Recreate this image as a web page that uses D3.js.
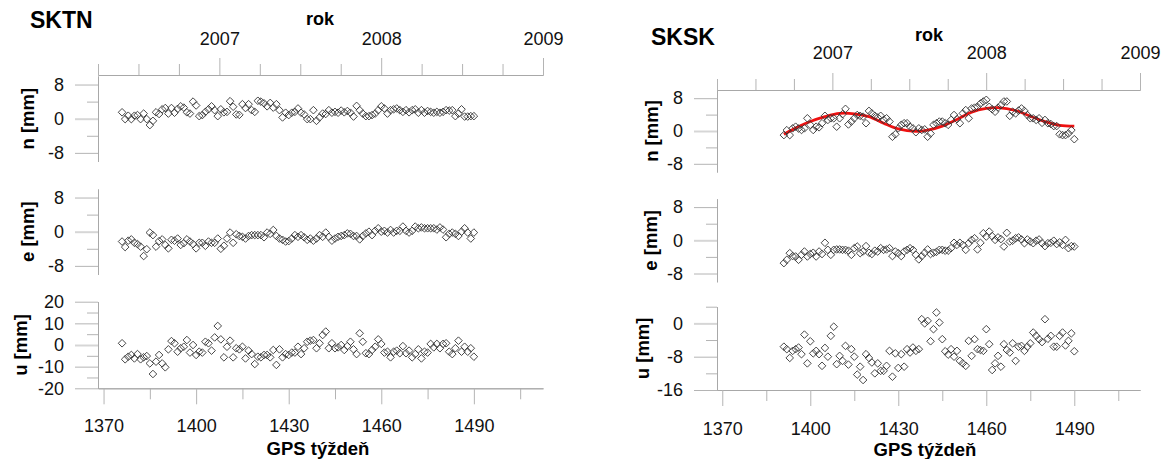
<!DOCTYPE html>
<html>
<head>
<meta charset="utf-8">
<script src="https://cdn.jsdelivr.net/npm/d3@7"></script>
<style>
  body { margin: 0; background: #fff; }
  svg { display: block; font-family: "Liberation Sans", Arial, sans-serif; }
</style>
</head>
<body>
<div class="gps_chart"></div>
<script>
  // GPS weeks of the weekly solutions
  const sktnWeeks = d3.range(1376, 1491);
  const sksWeeks = d3.range(1391, 1491);

  // SKTN residuals [mm]
  const sktnN = [
    1.5, -0.1, 0.7, -0.1, 0.7, 0.85, -0.1, 1.2, -0.1, -1.5,
    -0.5, 1.5, 1.1, 2.2, 2.5, 1.2, 2.5, 1.4, 2.3, 2.9,
    2.6, 1.5, 1.2, 4.0, 3.1, 0.6, 0.85, 1.6, 2.2, 2.9,
    2.0, 0.6, 2.2, 1.5, 1.6, 4.1, 2.8, 1.0, 0.9, 3.4,
    2.5, 3.4, 2.0, 1.6, 4.2, 4.0, 3.6, 2.9, 3.7, 2.6,
    3.4, 2.0, 0.3, 1.4, 0.85, 1.4, 1.6, 2.4, 1.4, 1.0,
    -0.1, -0.1, 2.0, -0.5, 0.3, 1.2, 1.1, 2.0, 1.4, 1.6,
    1.4, 1.9, 1.5, 1.8, 1.4, 0.5, 3.0, 2.0, 1.2, 0.6,
    0.6, 0.85, 1.2, 2.0, 2.9, 2.4, 1.2, 2.0, 2.2, 2.4,
    2.0, 1.6, 2.0, 1.5, 2.0, 2.2, 1.4, 2.0, 1.4, 1.8,
    1.6, 1.4, 1.6, 1.4, 1.6, 2.0, 1.9, 2.0, 0.6, 1.2,
    2.2, 0.5, 0.5, 0.6, 0.6
  ];
  const sktnE = [
    -2.3, -3.6, -2.1, -1.8, -2.6, -2.9, -3.5, -5.7, -4.1, -0.2,
    -0.8, -3.5, -2.2, -1.8, -3.1, -3.9, -1.9, -2.1, -1.6, -3.1,
    -2.7, -1.8, -2.3, -2.9, -3.9, -2.6, -2.6, -3.3, -2.3, -2.6,
    -2.6, -1.6, -4.0, -3.3, -1.6, -0.2, -2.6, -0.6, -1.0, -1.2,
    -1.6, -1.0, -0.8, -0.8, -0.8, -0.8, -1.3, -0.2, -0.5, 0.4,
    -1.0, -1.6, -1.9, -2.3, -2.2, -1.6, -0.8, -1.2, -0.8, -1.3,
    -1.9, -1.6, -2.1, -1.6, -0.8, -1.2, -0.2, -1.2, -2.1, -1.6,
    -1.2, -1.0, -0.8, -0.4, -0.5, -1.0, -1.0, -1.8, -1.0, -0.4,
    0.0, -0.8, 0.2, 0.8, 0.0, 0.2, -0.2, 0.4, -0.2, 0.2,
    0.2, 1.2, 0.2, -0.2, 0.2, 1.2, 0.8, 1.0, 0.8, 0.8,
    0.8, 0.8, 0.5, 1.0, 0.5, -1.3, -0.5, -0.2, -0.5, -1.0,
    0.0, 0.8, -0.2, -1.6, -0.2
  ];
  const sktnU = [
    0.8, -6.6, -5.4, -4.6, -6.2, -4.2, -6.6, -5.7, -5.1, -8.5,
    -13.4, -7.7, -4.6, -8.5, -10.3, -2.0, 1.8, 0.8, -3.1, -1.5,
    -0.8, 2.3, -3.5, 0.0, -4.6, -3.1, -3.5, 1.5, 0.8, -2.6,
    3.5, 8.8, 2.6, -5.7, -0.8, 2.0, -5.7, -1.5, -2.0, -0.8,
    -6.2, -2.6, -4.2, -8.8, -5.4, -5.7, -4.6, -4.6, -5.7, -2.3,
    -9.2, -2.0, -5.7, -4.2, -4.6, -3.5, -3.5, -0.8, -4.2, -1.5,
    1.5, 2.0, 2.3, -1.5, 0.8, 4.6, 6.2, -1.5, 0.8, -1.5,
    -1.1, 0.0, -2.3, -0.5, 1.5, -2.0, -4.2, 5.4, 1.5, -3.8,
    -4.2, -2.3, -0.8, 2.6, 0.5, -3.5, -3.1, -5.7, -3.1, -2.6,
    -3.8, -0.5, -3.8, -2.6, -5.7, -4.2, -2.0, -6.2, -3.1, -3.5,
    0.5, -1.1, 0.5, -1.5, 0.5, 0.8, -3.1, -4.2, -1.5, 2.0,
    -3.1, -0.8, -3.1, -1.5, -5.4
  ];

  // SKSK residuals [mm]
  const sksN = [
    -1.0, 0.2, -1.0, 0.65, 1.05, 0.6, 0.25, 0.65, 3.1, 1.5,
    0.25, 1.05, 0.9, 1.9, 3.7, 2.7, 3.1, 3.1, 1.05, 3.1,
    4.1, 5.4, 1.6, 2.3, 3.1, 3.9, 3.7, 3.5, 1.9, 4.9,
    4.3, 3.7, 3.3, 3.7, 2.7, 3.1, 2.3, -1.4, -0.8, 0.65,
    1.5, 1.9, 1.9, 1.05, 0.65, -0.3, 0.65, 0.25, 0.4, -1.4,
    -0.6, 1.5, 1.9, 2.3, 2.3, 1.9, 1.5, 2.7, 3.9, 2.9,
    1.9, 4.3, 5.1, 3.1, 5.5, 5.7, 5.9, 6.7, 7.2, 7.6,
    5.9, 5.3, 4.7, 5.7, 6.3, 7.2, 7.2, 3.7, 4.7, 4.3,
    5.0, 5.5, 4.9, 3.9, 3.1, 3.1, 2.7, 3.1, 2.0, 2.7,
    1.9, 1.7, 1.2, 1.2, -0.8, -1.0, -1.0, -0.6, 0.2, -2.0
  ];
  const sksE = [
    -5.5, -4.7, -3.1, -3.8, -3.9, -4.7, -3.5, -2.7, -3.9, -3.3,
    -3.0, -3.9, -2.7, -3.3, -0.6, -2.3, -3.5, -2.3, -2.2, -2.2,
    -2.3, -2.3, -2.5, -3.5, -1.9, -1.5, -3.1, -2.7, -1.4, -3.0,
    -3.3, -2.5, -2.7, -1.9, -2.3, -2.2, -1.9, -3.8, -2.7, -3.1,
    -3.8, -2.7, -2.3, -1.9, -2.3, -3.5, -4.6, -3.8, -3.0, -2.2,
    -3.3, -3.0, -2.8, -2.3, -2.3, -2.5, -2.5, -1.9, -0.6, -1.1,
    -0.6, -1.1, -2.3, -0.7, 0.1, 0.5, -2.2, -0.6, 1.7, 0.9,
    2.1, 1.0, 0.1, 0.7, 0.3, -1.5, 1.8, -0.3, -0.1, 0.5,
    0.7, 0.2, -0.7, 0.2, -0.3, -0.7, -0.1, 0.2, -0.7, -1.4,
    -0.7, -0.6, -0.1, -0.9, -0.5, -1.1, 0.1, -1.9, -1.4, -1.5
  ];
  const sksU = [
    -5.6, -6.2, -8.3, -6.6, -6.2, -5.8, -7.4, -2.7, -9.6, -4.3,
    -7.2, -6.6, -7.4, -10.2, -5.9, -8.0, -3.0, -0.8, -9.8, -7.8,
    -9.0, -5.4, -9.9, -6.2, -8.0, -12.3, -10.4, -13.6, -7.4, -8.3,
    -9.4, -12.0, -9.6, -11.4, -11.4, -10.2, -6.6, -12.8, -7.2, -10.7,
    -7.4, -10.4, -6.2, -7.0, -5.8, -6.6, -6.2, 1.0, 0.0, 0.6,
    -4.3, -1.4, 2.6, 0.2, -3.8, -6.7, -7.5, -6.2, -8.0, -6.6,
    -9.0, -9.6, -10.2, -4.2, -7.8, -3.8, -6.2, -6.4, -6.6, -1.4,
    -5.0, -11.2, -9.6, -7.8, -10.4, -5.0, -6.4, -7.0, -4.8, -9.0,
    -5.6, -5.4, -6.6, -5.6, -4.8, -2.2, -3.0, -3.8, -4.5, 1.0,
    -3.7, -3.0, -5.6, -5.6, -3.0, -2.2, -5.3, -4.2, -2.4, -6.7
  ];

  // fitted seasonal curve for SKSK n
  const sksFitWeeks = [1391, 1395, 1400, 1405, 1410, 1415, 1420, 1425, 1430, 1436, 1440,
                       1445, 1450, 1455, 1460, 1464, 1470, 1475, 1480, 1485, 1490];
  const sksFitN = [-0.8, 0.7, 2.3, 3.5, 4.3, 4.2, 3.5, 1.9, 0.5, -0.1, 0.2,
                   1.2, 2.8, 4.6, 5.5, 5.7, 5.0, 3.6, 2.3, 1.4, 1.2];

  // tick values
  const yearMajor = [2007, 2008, 2009];
  const yearMinor = [2006.25, 2006.5, 2006.75, 2007.25, 2007.5, 2007.75, 2008.25, 2008.5, 2008.75];
  const weekMajor = [1370, 1400, 1430, 1460, 1490];
  const weekMinor = [1385, 1415, 1445, 1475, 1505];
  const neMajor = [-8, 0, 8];
  const neMinor = [-4, 4];
  const sktnUMajor = [-20, -10, 0, 10, 20];
  const sktnUMinor = [-15, -5, 5, 15];
  const sksUMajor = [-16, -8, 0];
  const sksUMinor = [-12, -4, 4];

  const svg = d3.select(".gps_chart")
    .append("svg")
    .attr("width", 1167)
    .attr("height", 459);

  const diamond = "M0,-3.8L3.8,0L0,3.8L-3.8,0Z";
  const plain = d => String(d);   // hyphen minus like the original

  // grey axis styling
  function styleAxis(g, zeroLight) {
    g.select(".domain").attr("stroke", "#a8a8a8");
    g.selectAll(".tick line").attr("stroke", "#b4b4b4");
    if (zeroLight) {
      g.selectAll(".tick line").filter(d => d === 0)
        .attr("stroke", "#d6d6d6").attr("stroke-width", 2);
    }
    g.selectAll("text")
      .attr("fill", "#111")
      .style("font-size", "18px")
      .style("font-family", '"Liberation Sans", Arial, sans-serif');
    g.attr("font-family", null);
  }

  function drawStation(cfg) {
    const g = svg.append("g");

    const x = d3.scaleLinear().domain([1368.2, 1512.4]).range([cfg.left, cfg.right]);
    const xYear = d3.scaleLinear().domain([2006.25, 2009]).range([cfg.left, cfg.right]);

    // station name and axis titles
    g.append("text")
      .attr("x", cfg.titleX).attr("y", cfg.titleY)
      .style("font-size", "23px").style("font-weight", "bold")
      .text(cfg.name);

    g.append("text")
      .attr("x", cfg.rokX).attr("y", cfg.rokY)
      .attr("text-anchor", "middle")
      .style("font-size", "18px").style("font-weight", "bold")
      .text("rok");

    g.append("text")
      .attr("x", cfg.gpsX).attr("y", cfg.gpsY)
      .attr("text-anchor", "middle")
      .style("font-size", "18.5px").style("font-weight", "bold")
      .text("GPS týždeň");

    // top year axis
    const topMinor = g.append("g")
      .attr("transform", `translate(0,${cfg.topY})`)
      .call(d3.axisTop(xYear).tickValues(yearMinor).tickSize(11).tickSizeOuter(0).tickFormat(""));
    styleAxis(topMinor);
    const topMajor = g.append("g")
      .attr("transform", `translate(0,${cfg.topY})`)
      .call(d3.axisTop(xYear).tickValues(yearMajor).tickSize(17).tickSizeOuter(0)
        .tickPadding(cfg.yearPad).tickFormat(plain));
    styleAxis(topMajor);

    // bottom GPS week axis
    const botMinor = g.append("g")
      .attr("transform", `translate(0,${cfg.bottomY})`)
      .call(d3.axisBottom(x).tickValues(weekMinor).tickSize(11).tickSizeOuter(0).tickFormat(""));
    styleAxis(botMinor);
    const botMajor = g.append("g")
      .attr("transform", `translate(0,${cfg.bottomY})`)
      .call(d3.axisBottom(x).tickValues(weekMajor).tickSize(16).tickSizeOuter(0)
        .tickPadding(cfg.weekPad).tickFormat(plain));
    styleAxis(botMajor);

    // one row per component
    cfg.rows.forEach(row => {
      const y = d3.scaleLinear().domain(row.domain).range([row.bottom, row.top]);

      const yMinor = g.append("g")
        .attr("transform", `translate(${cfg.left},0)`)
        .call(d3.axisLeft(y).tickValues(row.minor).tickSize(11).tickSizeOuter(0).tickFormat(""));
      styleAxis(yMinor);
      const yMajor = g.append("g")
        .attr("transform", `translate(${cfg.left},0)`)
        .call(d3.axisLeft(y).tickValues(row.major).tickSize(23).tickSizeOuter(0)
          .tickPadding(11).tickFormat(plain));
      styleAxis(yMajor, true);

      g.append("text")
        .attr("transform", `translate(${row.labelX},${(row.top + row.bottom) / 2}) rotate(-90)`)
        .attr("text-anchor", "middle")
        .attr("dy", "0.35em")
        .style("font-size", "18.5px").style("font-weight", "bold")
        .text(row.label);

      const pts = row.weeks.map((w, i) => ({ w, v: row.values[i] }));

      if (row.fit) {
        const fit = row.fit.weeks.map((w, i) => ({ w, v: row.fit.values[i] }));
        g.append("path")
          .datum(fit)
          .attr("d", d3.line().curve(d3.curveCatmullRom).x(d => x(d.w)).y(d => y(d.v)))
          .attr("fill", "none")
          .attr("stroke", "#ee1111")
          .attr("stroke-width", 2.8);
      }

      g.append("g").selectAll("path")
        .data(pts)
        .enter()
        .append("path")
        .attr("d", diamond)
        .attr("transform", d => `translate(${x(d.w)},${y(d.v)})`)
        .attr("fill", "none")
        .attr("stroke", "#333")
        .attr("stroke-width", 0.9);
    });
  }

  drawStation({
    name: "SKTN", titleX: 30, titleY: 28,
    rokX: 320, rokY: 25, gpsX: 318, gpsY: 455,
    left: 98, right: 543, topY: 75, bottomY: 388.3,
    yearPad: 13, weekPad: 15,
    rows: [
      { label: "n [mm]", labelX: 28, domain: [-10, 10], top: 76, bottom: 161.4,
        major: neMajor, minor: neMinor, weeks: sktnWeeks, values: sktnN },
      { label: "e [mm]", labelX: 28, domain: [-10, 10], top: 189, bottom: 274.4,
        major: neMajor, minor: neMinor, weeks: sktnWeeks, values: sktnE },
      { label: "u [mm]", labelX: 21, domain: [-20, 20], top: 301.7, bottom: 388.3,
        major: sktnUMajor, minor: sktnUMinor, weeks: sktnWeeks, values: sktnU }
    ]
  });

  drawStation({
    name: "SKSK", titleX: 651, titleY: 45,
    rokX: 929, rokY: 41, gpsX: 925, gpsY: 456,
    left: 717, right: 1140, topY: 90, bottomY: 390,
    yearPad: 14, weekPad: 16,
    rows: [
      { label: "n [mm]", labelX: 652, domain: [-10, 10], top: 90, bottom: 172,
        major: neMajor, minor: neMinor, weeks: sksWeeks, values: sksN,
        fit: { weeks: sksFitWeeks, values: sksFitN } },
      { label: "e [mm]", labelX: 651, domain: [-10, 10], top: 198.8, bottom: 281.8,
        major: neMajor, minor: neMinor, weeks: sksWeeks, values: sksE },
      { label: "u [mm]", labelX: 643, domain: [-16, 4], top: 306.7, bottom: 390,
        major: sksUMajor, minor: sksUMinor, weeks: sksWeeks, values: sksU }
    ]
  });
</script>
</body>
</html>
